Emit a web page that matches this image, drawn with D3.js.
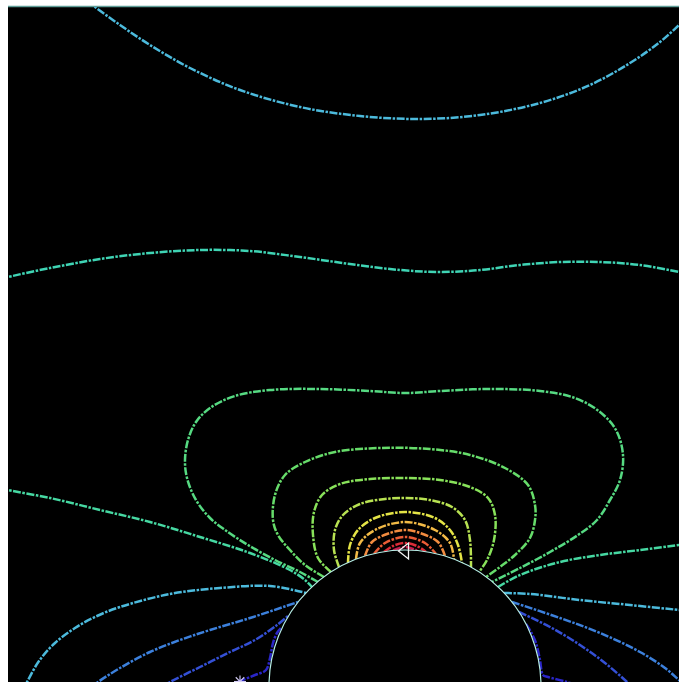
<!DOCTYPE html>
<html>
<head>
<meta charset="utf-8">
<script src="https://cdn.jsdelivr.net/npm/d3@7"></script>
<style>
  html, body { margin: 0; padding: 0; background: #fff; }
  svg { display: block; }
</style>
</head>
<body>
<svg id="chart" width="679" height="682"></svg>
<script>
// Contour levels (low -> high) and the jet-like colour used for each
const levels = [1, 2, 3, 4, 5, 6, 7, 8, 9, 10, 11, 12, 13, 14, 15, 16];
const levelColors = ["#2a26c8", "#3450d6", "#3c80dc", "#4cbadc", "#3fd4b4", "#46d8a2",
                     "#56da82", "#66dc6a", "#88e25a", "#b8e252", "#e4e446", "#f2ba46",
                     "#f28c40", "#ea5c36", "#da2c38", "#c41c4e"];

// Contour polylines, coordinates in units where the body centre is (0, 0)
const farArc = [[-31.8,68.5],[-31.0,67.9],[-28.5,66.1],[-25.5,64.1],[-21.5,61.8],[-16.5,59.6],[-10.5,57.9],
  [-4.5,57.0],[1.5,56.7],[7.5,57.1],[13.5,58.3],[18.5,60.1],[22.5,62.3],[25.5,64.4],[27.4,66.1],[28.2,66.9]];
const midLine = [[-40.5,40.7],[-39.7,40.9],[-35.5,41.8],[-30.5,42.7],[-25.5,43.3],[-20.5,43.6],[-15.5,43.5],
  [-10.5,42.9],[-5.5,42.2],[-0.5,41.6],[3.5,41.4],[7.5,41.6],[11.5,42.1],[15.5,42.4],[19.5,42.4],[23.5,42.1],
  [27.4,41.4],[28.2,41.2]];
const sideLeft6 = [[-40.5,19.8],[-39.7,19.6],[-35.5,18.8],[-30.5,17.6],[-25.5,16.4],[-20.5,14.9],[-15.5,13.3],
  [-11.5,11.6],[-10.0,10.6],[-9.3,9.9]];
const sideRight6 = [[9.3,9.9],[11.5,11.1],[15.5,12.4],[19.5,13.1],[23.5,13.6],[27.4,14.1],[28.2,14.2]];
const sideLeft4 = [[-38.3,-0.5],[-37.8,0.4],[-36.6,2.5],[-35.0,4.3],[-33.0,5.8],[-30.8,7.0],[-28.5,7.9],
  [-23.5,9.2],[-18.5,9.8],[-13.5,10.0],[-9.9,9.3]];
const sideRight4 = [[9.9,9.3],[12.5,9.2],[17.5,8.6],[22.5,8.1],[27.4,7.6],[28.2,7.5]];
const sideLeft3 = [[-31.6,-0.3],[-30.7,0.4],[-28.5,1.8],[-25.5,3.4],[-22.5,4.6],[-19.5,5.6],[-15.5,6.8],[-10.7,8.4]];
const sideRight3 = [[10.7,8.4],[15.5,6.8],[19.5,5.3],[23.5,3.4],[26.0,1.8],[27.4,0.6],[28.3,-0.2]];
const sideLeft2 = [[-24.5,-0.2],[-23.5,0.4],[-20.5,1.9],[-17.5,3.4],[-15.0,4.6],[-12.8,6.1],[-11.7,7.0]];
const sideRight2 = [[11.4,7.4],[14.5,5.9],[17.5,4.1],[20.0,2.3],[22.2,0.4],[23.0,-0.4]];
const sideLeft1 = [[-18.0,0.0],[-16.5,0.5],[-15.0,1.1],[-13.9,1.6],[-13.5,2.8],[-13.2,4.3],[-12.8,5.3],[-12.4,5.8]];
const sideRight1 = [[12.1,6.2],[12.6,5.4],[13.1,4.3],[13.5,2.6],[13.8,1.1],[14.3,0.9],[16.2,0.4],[17.5,0.0]];
const loop7 = [[-8.7,10.4],[-10.5,11.4],[-13.0,12.6],[-15.7,14.1],[-18.0,15.6],[-19.5,16.8],[-20.9,18.6],
  [-21.8,20.8],[-22.0,22.6],[-21.7,24.6],[-20.9,26.4],[-19.5,27.8],[-17.0,29.0],[-13.5,29.6],[-8.5,29.7],
  [-3.5,29.5],[0,29.3],[3.5,29.5],[8.5,29.7],[13.5,29.5],[17.0,28.8],[19.5,27.4],[21.1,25.6],[21.8,23.1],
  [21.5,20.6],[20.5,18.6],[19.2,16.6],[17.3,15.1],[14.5,13.4],[11.5,11.8],[8.7,10.4]];
const loop8 = [[-8.1,10.9],[-10.0,12.1],[-11.5,13.6],[-12.7,15.1],[-13.2,16.6],[-13.0,19.1],[-12.0,21.1],
  [-10.0,22.4],[-7.0,23.4],[-2.5,23.8],[2.5,23.7],[6.5,23.1],[10.0,21.8],[12.3,20.1],[13.0,18.1],[13.0,16.6],
  [12.5,14.8],[11.0,13.1],[9.5,11.9],[8.1,10.9]];
const loop9 = [[-7.4,11.4],[-8.7,12.8],[-9.2,15.1],[-9.1,17.4],[-8.3,19.1],[-6.5,20.2],[-3.5,20.7],[0,20.8],
  [3.5,20.6],[6.5,19.9],[8.3,18.8],[9.0,17.1],[8.9,14.6],[8.2,12.6],[7.4,11.4]];
const loop10 = [[-6.6,11.9],[-7.1,13.6],[-7.0,15.6],[-6.2,17.1],[-4.5,18.2],[-2.0,18.7],[0,18.8],[2.5,18.6],
  [4.7,17.9],[6.0,16.6],[6.5,14.6],[6.6,11.9]];
const loop11 = [[-5.7,12.3],[-5.5,14.1],[-4.7,15.6],[-3.0,16.8],[0,17.4],[3.0,16.8],[4.5,15.6],[5.3,14.1],[5.7,12.3]];
const loop12 = [[-4.9,12.7],[-4.5,14.3],[-3.0,15.6],[0,16.4],[3.0,15.6],[4.5,14.3],[4.9,12.7]];
const loop13 = [[-4.0,13.0],[-3.3,14.4],[-1.5,15.3],[0,15.6],[1.5,15.3],[3.3,14.4],[4.0,13.0]];
const loop14 = [[-3.1,13.2],[-2.0,14.3],[0,14.9],[2.0,14.3],[3.1,13.2]];
const loop15 = [[-2.1,13.4],[-1.2,14.0],[0,14.3],[1.2,14.0],[2.1,13.4]];
const loop16 = [[-1.2,13.55],[0,13.9],[1.2,13.55]];

const contourLevels = [4, 5, 6, 6, 4, 4, 3, 3, 2, 2, 1, 1, 7, 8, 9, 10, 11, 12, 13, 14, 15, 16];
const contourLines = [farArc, midLine, sideLeft6, sideRight6, sideLeft4, sideRight4, sideLeft3, sideRight3,
  sideLeft2, sideRight2, sideLeft1, sideRight1, loop7, loop8, loop9, loop10, loop11, loop12, loop13,
  loop14, loop15, loop16];

// Body and markers
const bodyRadius = 13.6;
const probePoint = [-0.2, 13.5];
const sourcePoint = [-16.5, 0.45];

// Visible window
const xDomain = [-39.7, 27.4];
const yDomain = [0.4, 67.9];

const svg = d3.select("#chart");
const plot = { left: 8, top: 7, right: 679, bottom: 682 };

const x = d3.scaleLinear().domain(xDomain).range([plot.left, plot.right]);
const y = d3.scaleLinear().domain(yDomain).range([plot.bottom, plot.top]);
const color = d3.scaleOrdinal().domain(levels).range(levelColors);

svg.append("defs").append("clipPath").attr("id", "plot-clip")
  .append("rect")
  .attr("x", plot.left).attr("y", plot.top)
  .attr("width", plot.right - plot.left).attr("height", plot.bottom - plot.top);

// Frame
svg.append("rect")
  .attr("x", plot.left).attr("y", plot.top)
  .attr("width", plot.right - plot.left).attr("height", plot.bottom - plot.top)
  .attr("fill", "#000");
svg.append("line")
  .attr("x1", plot.left).attr("x2", plot.right)
  .attr("y1", plot.top - 0.5).attr("y2", plot.top - 0.5)
  .attr("stroke", "#5f9e98").attr("stroke-width", 1.6);

const g = svg.append("g").attr("clip-path", "url(#plot-clip)");

const line = d3.line()
  .x(d => x(d[0]))
  .y(d => y(d[1]))
  .curve(d3.curveCatmullRom.alpha(0.5));

g.selectAll("path.contour")
  .data(contourLines.map((pts, i) => ({ pts, level: contourLevels[i] })))
  .join("path")
  .attr("class", "contour")
  .attr("d", d => line(d.pts))
  .attr("fill", "none")
  .attr("stroke", d => color(d.level))
  .attr("stroke-width", 2.5)
  .attr("stroke-dasharray", "8,1.5,2.5,1.5")
  .attr("stroke-linecap", "butt");

// Body outline
g.append("circle")
  .attr("cx", x(0)).attr("cy", y(0))
  .attr("r", x(bodyRadius) - x(0))
  .attr("fill", "#000")
  .attr("stroke", "#b6eee6")
  .attr("stroke-width", 1.2);

// Probe marker: left-pointing triangle
const px = x(probePoint[0]), py = y(probePoint[1]);
g.append("path")
  .attr("d", `M${px - 4.5},${py} L${px + 5.5},${py - 8} L${px + 5.5},${py + 8} Z`)
  .attr("fill", "none")
  .attr("stroke", "#f4f4f4")
  .attr("stroke-width", 1.3);

// Source marker: asterisk
const sx = x(sourcePoint[0]), sy = y(sourcePoint[1]);
const star = g.append("g").attr("stroke", "#d6cef4").attr("stroke-width", 1.1);
[0, 45, 90, 135].forEach(a => {
  const r = 6, t = a * Math.PI / 180;
  star.append("line")
    .attr("x1", sx - r * Math.cos(t)).attr("y1", sy - r * Math.sin(t))
    .attr("x2", sx + r * Math.cos(t)).attr("y2", sy + r * Math.sin(t));
});
</script>
</body>
</html>
